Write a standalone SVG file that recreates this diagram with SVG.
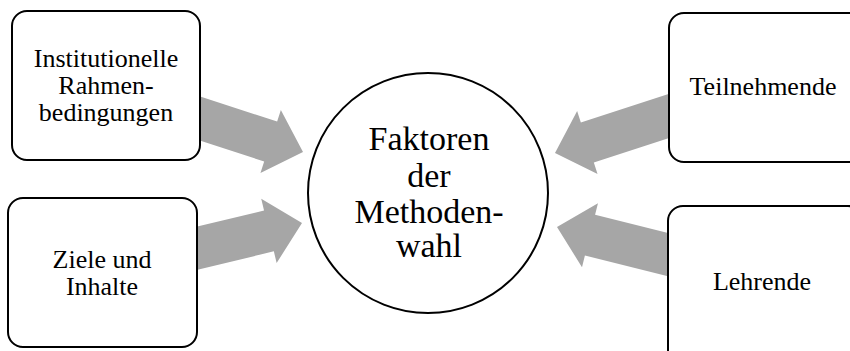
<svg xmlns="http://www.w3.org/2000/svg" width="850" height="351" viewBox="0 0 850 351">
  <style>
    .box { fill: #ffffff; stroke: #000000; stroke-width: 2; }
    .hub { fill: #ffffff; stroke: #000000; stroke-width: 2; }
    .arrow { fill: #a6a6a6; stroke: none; }
    .lbl { font-size: 26px; }
    .hub-lbl { font-size: 34px; }
  </style>
  <defs>
    <!-- block arrow, tip at origin, pointing along +x -->
    <polygon id="blockArrow" class="arrow" points="-135,-21 -34,-21 -34,-33 0,0 -34,33 -34,21 -135,21"/>
  </defs>
  <rect width="850" height="351" fill="#ffffff"/>

  <g id="connectors">
    <use href="#blockArrow" transform="translate(303,152) rotate(18)"/>
    <use href="#blockArrow" transform="translate(302,223) rotate(-13.5)"/>
    <use href="#blockArrow" transform="translate(555,153) rotate(162)"/>
    <use href="#blockArrow" transform="translate(557,227) rotate(194)"/>
  </g>

  <g font-family="'Liberation Serif', 'Times New Roman', Tinos, 'DejaVu Serif', serif" fill="#000000" text-anchor="middle">
    <g id="institutionelle">
      <rect class="box" x="12" y="11" width="188" height="149" rx="15"/>
      <text class="lbl" x="106" y="67">Institutionelle</text>
      <text class="lbl" x="106" y="94">Rahmen-</text>
      <text class="lbl" x="106" y="121">bedingungen</text>
    </g>

    <g id="ziele">
      <rect class="box" x="8" y="198" width="189" height="149" rx="15"/>
      <text class="lbl" x="102" y="268">Ziele und</text>
      <text class="lbl" x="102" y="295">Inhalte</text>
    </g>

    <g id="teilnehmende">
      <rect class="box" x="669" y="13" width="195" height="149" rx="15"/>
      <text class="lbl" x="763" y="95">Teilnehmende</text>
    </g>

    <g id="lehrende">
      <rect class="box" x="668" y="206" width="195" height="160" rx="15"/>
      <text class="lbl" x="762" y="290">Lehrende</text>
    </g>

    <g id="faktoren">
      <circle class="hub" cx="428" cy="193" r="120"/>
      <text class="hub-lbl" x="429" y="150">Faktoren</text>
      <text class="hub-lbl" x="429" y="187">der</text>
      <text class="hub-lbl" x="429" y="223">Methoden-</text>
      <text class="hub-lbl" x="429" y="257">wahl</text>
    </g>
  </g>
</svg>
